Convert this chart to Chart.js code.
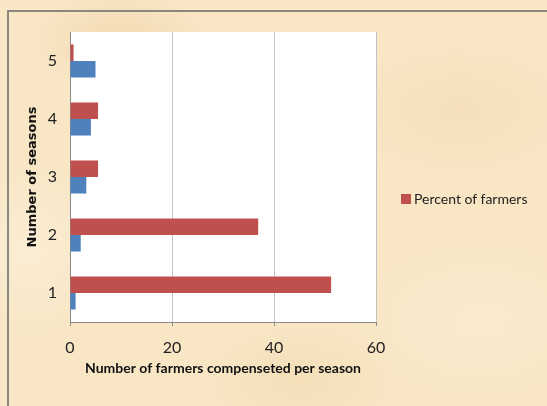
<!DOCTYPE html>
<html>
<head>
<meta charset="utf-8">
<script src="https://cdn.jsdelivr.net/npm/chart.js@4"></script>
<style>
  html, body { margin: 0; padding: 0; }
  body {
    width: 547px; height: 406px; overflow: hidden; position: relative;
    background-color: #f8e6c5;
    background-image:
      radial-gradient(ellipse 90px 50px at 120px 40px, rgba(240,214,170,0.7), transparent),
      radial-gradient(ellipse 120px 70px at 460px 110px, rgba(243,220,180,0.6), transparent),
      radial-gradient(ellipse 100px 60px at 300px 380px, rgba(241,218,176,0.6), transparent),
      radial-gradient(ellipse 80px 90px at 30px 250px, rgba(252,240,218,0.7), transparent),
      radial-gradient(ellipse 130px 80px at 480px 320px, rgba(252,238,214,0.6), transparent);
  }
  #frame {
    position: absolute; left: 7px; top: 10px; width: 560px; height: 420px;
    border: 2px solid #8d8782; box-sizing: border-box;
  }
  canvas { position: absolute; left: 0; top: 0; }
  #legend {
    position: absolute; left: 401px; top: 190px;
    font-family: Lato, sans-serif; font-size: 14px; color: #222;
    white-space: nowrap;
  }
  #legend span.box {
    display: inline-block; width: 10px; height: 10px; margin-right: 3px;
  }
</style>
</head>
<body>
<div id="frame"></div>
<canvas id="chart" width="547" height="406"></canvas>
<div id="legend"></div>
<script>
const seasons = ["1", "2", "3", "4", "5"];
const percentFarmers = [51.2, 36.9, 5.5, 5.5, 0.7];
const farmersCompensated = [1.1, 2.1, 3.2, 4.1, 5.0];
const xTicks = [0, 20, 40, 60];

const fontFamily = "Lato, sans-serif";

// white plot area behind the bars
const plotBackground = {
  id: "plotBackground",
  beforeDraw(chart) {
    const { ctx, chartArea: a } = chart;
    ctx.save();
    ctx.fillStyle = "#ffffff";
    ctx.fillRect(a.left, a.top, a.right - a.left, a.bottom - a.top);
    ctx.restore();
  },
};

const ctx = document.getElementById("chart");
const chart = new Chart(ctx, {
  type: "bar",
  data: {
    labels: seasons,
    datasets: [
      {
        label: "Percent of farmers",
        data: percentFarmers,
        backgroundColor: "#c0504d",
      },
      {
        label: "Farmers",
        data: farmersCompensated,
        backgroundColor: "#4f81bd",
      },
    ],
  },
  plugins: [plotBackground],
  options: {
    responsive: false,
    animation: false,
    indexAxis: "y",
    categoryPercentage: 0.57,
    barPercentage: 1,
    layout: { padding: { left: 20, top: 32, right: 171, bottom: 24 } },
    plugins: {
      tooltip: { enabled: false },
      legend: { display: false },
    },
    scales: {
      x: {
        min: 0,
        max: 60,
        afterBuildTicks: (s) => {
          s.ticks = xTicks.map((v) => ({ value: v }));
        },
        grid: {
          color: "#c4c4c4",
          lineWidth: 1,
          tickLength: 4,
          tickColor: "#8a8a8a",
        },
        border: { color: "#8a8a8a" },
        ticks: {
          padding: 12,
          color: "#222",
          font: { family: fontFamily, size: 16 },
        },
        title: {
          display: true,
          text: "Number of farmers compenseted per season",
          color: "#111",
          font: { family: fontFamily, size: 14, weight: "bold" },
          padding: { top: 4, bottom: 5 },
        },
        afterFit: (s) => {
          s.height = 60;
        },
      },
      y: {
        reverse: true,
        grid: { display: false, drawTicks: false },
        border: { color: "#8a8a8a" },
        ticks: {
          padding: 13,
          color: "#222",
          font: { family: fontFamily, size: 16 },
        },
        title: {
          display: true,
          text: "Number of seasons",
          color: "#111",
          font: { family: "'DejaVu Sans', sans-serif", size: 13, weight: "bold" },
          padding: { top: 5, bottom: 4 },
        },
        afterFit: (s) => {
          s.width = 50;
        },
      },
    },
  },
});

// legend shows only the red series, as in the original
const legend = document.getElementById("legend");
const ds = chart.data.datasets[0];
legend.innerHTML =
  '<span class="box" style="background:' + ds.backgroundColor + '"></span>' + ds.label;
</script>
</body>
</html>
